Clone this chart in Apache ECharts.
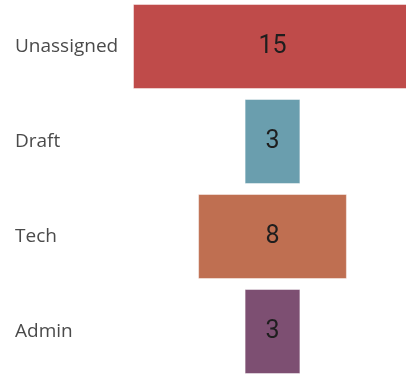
<!DOCTYPE html>
<html>
<head>
<meta charset="utf-8">
<script src="https://cdn.jsdelivr.net/npm/echarts@6/dist/echarts.min.js"></script>
<style>
  html, body { margin: 0; padding: 0; background: #ffffff; }
  #chart { width: 406px; height: 374px; }
</style>
</head>
<body>
<div id="chart"></div>
<script>
// Stage names and their counts, top to bottom
const categories = ['Unassigned', 'Draft', 'Tech', 'Admin'];
const counts = [15, 3, 8, 3];
const barColors = ['#BF4B4A', '#6A9EAE', '#BF6F51', '#7D4F72'];

// Centre every bar on the widest one: a transparent spacer sits before each bar
const widest = Math.max(...counts);
const spacers = counts.map(v => (widest - v) / 2);

const chart = echarts.init(document.getElementById('chart'), null, { renderer: 'canvas' });

chart.setOption({
  animation: false,
  grid: {
    left: 133, top: -1, width: 279, height: 380,
    containLabel: false,
    outerBoundsMode: 'none'
  },
  xAxis: {
    type: 'value', min: 0, max: widest,
    show: false
  },
  yAxis: {
    type: 'category',
    data: categories,
    inverse: true,
    axisLine: { show: false },
    axisTick: { show: false },
    splitLine: { show: false },
    axisLabel: {
      align: 'left',
      margin: 118,
      color: '#4a4a4a',
      fontFamily: 'Open Sans',
      fontSize: 19
    }
  },
  series: [
    {
      type: 'bar',
      stack: 'funnel',
      data: spacers,
      barWidth: 85,
      itemStyle: { color: 'transparent' },
      silent: true
    },
    {
      type: 'bar',
      stack: 'funnel',
      barWidth: 85,
      data: counts.map((v, i) => ({
        value: v,
        itemStyle: { color: barColors[i], borderColor: 'rgba(255,255,255,0.45)', borderWidth: 1 }
      })),
      label: {
        show: true,
        position: 'inside',
        color: '#1e1e1e',
        fontFamily: 'Roboto',
        fontSize: 25
      }
    }
  ]
});
</script>
</body>
</html>
